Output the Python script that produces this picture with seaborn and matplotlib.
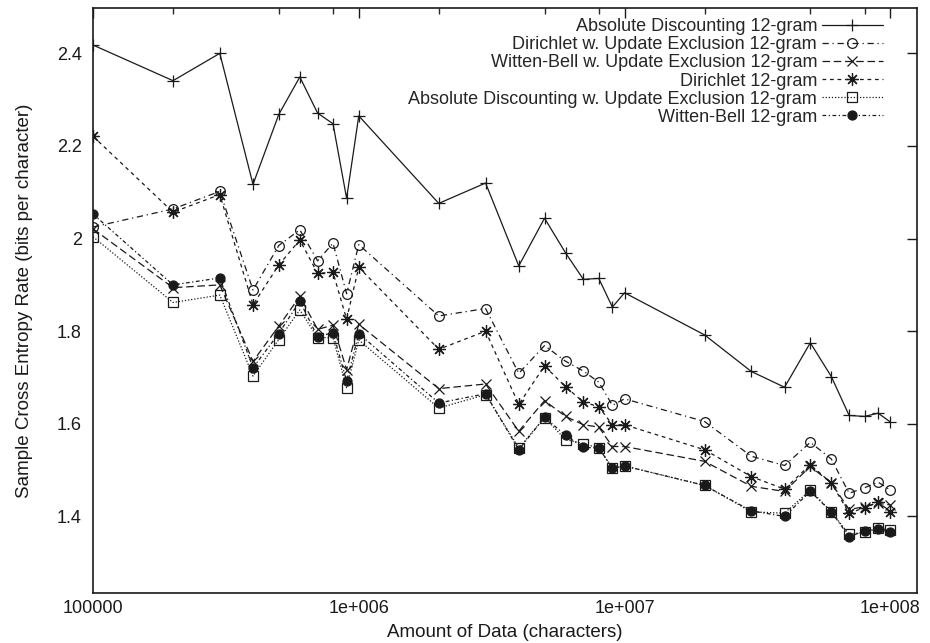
import numpy as np
import pandas as pd
import matplotlib
matplotlib.use("Agg")
import matplotlib.pyplot as plt
import matplotlib.ticker as mticker
import seaborn as sns

# amount of data (characters)
chars = [1e5, 2e5, 3e5, 4e5, 5e5, 6e5, 7e5, 8e5, 9e5,
         1e6, 2e6, 3e6, 4e6, 5e6, 6e6, 7e6, 8e6, 9e6,
         1e7, 2e7, 3e7, 4e7, 5e7, 6e7, 7e7, 8e7, 9e7, 1e8]

abs_disc = [2.418, 2.341, 2.400, 2.117, 2.268, 2.349, 2.271, 2.248, 2.087,
            2.265, 2.076, 2.120, 1.941, 2.044, 1.969, 1.912, 1.914, 1.852,
            1.883, 1.792, 1.713, 1.679, 1.775, 1.702, 1.618, 1.616, 1.623, 1.604]
dir_ue = [2.025, 2.064, 2.102, 1.889, 1.985, 2.019, 1.952, 1.990, 1.881,
          1.987, 1.833, 1.849, 1.709, 1.769, 1.735, 1.714, 1.690, 1.640,
          1.654, 1.605, 1.530, 1.510, 1.560, 1.524, 1.450, 1.462, 1.474, 1.457]
wb_ue = [2.021, 1.894, 1.900, 1.735, 1.811, 1.875, 1.804, 1.813, 1.717,
         1.815, 1.676, 1.686, 1.584, 1.650, 1.616, 1.598, 1.593, 1.551,
         1.551, 1.519, 1.465, 1.454, 1.508, 1.472, 1.415, 1.421, 1.428, 1.425]
dirichlet = [2.221, 2.057, 2.095, 1.857, 1.943, 1.997, 1.925, 1.927, 1.826,
             1.938, 1.761, 1.800, 1.642, 1.725, 1.680, 1.647, 1.637, 1.598,
             1.598, 1.544, 1.486, 1.459, 1.512, 1.472, 1.407, 1.419, 1.431, 1.410]
abs_disc_ue = [2.004, 1.862, 1.878, 1.703, 1.782, 1.846, 1.786, 1.786, 1.678,
               1.781, 1.634, 1.663, 1.548, 1.613, 1.566, 1.557, 1.548, 1.504,
               1.509, 1.467, 1.410, 1.407, 1.457, 1.410, 1.361, 1.366, 1.374, 1.371]
witten_bell = [2.053, 1.900, 1.915, 1.721, 1.795, 1.865, 1.788, 1.797, 1.692,
               1.795, 1.645, 1.665, 1.544, 1.614, 1.575, 1.549, 1.548, 1.504,
               1.509, 1.467, 1.412, 1.400, 1.454, 1.410, 1.356, 1.369, 1.372, 1.366]

labels = ["Absolute Discounting 12-gram",
          "Dirichlet w. Update Exclusion 12-gram",
          "Witten-Bell w. Update Exclusion 12-gram",
          "Dirichlet 12-gram",
          "Absolute Discounting w. Update Exclusion 12-gram",
          "Witten-Bell 12-gram"]
series = [abs_disc, dir_ue, wb_ue, dirichlet, abs_disc_ue, witten_bell]

# gnuplot-ish look for each line
styles = [
    dict(linestyle="-", marker="+", markersize=9, mfc="k"),
    dict(linestyle=(0, (5, 3, 1, 3)), marker="o", markersize=7, mfc="none"),
    dict(linestyle=(0, (6, 3)), marker="x", markersize=7, mfc="k"),
    dict(linestyle=(0, (3, 3)), marker=(8, 2, 0), markersize=9, mfc="k"),
    dict(linestyle=(0, (1, 1.5)), marker="s", markersize=7, mfc="none"),
    dict(linestyle=(0, (3, 2, 1, 2)), marker="o", markersize=6.5, mfc="k"),
]

sns.set_theme(style="white")
plt.rcParams['font.family'] = ['Liberation Sans', 'DejaVu Sans']

fig = plt.figure(figsize=(9.3, 6.43), dpi=100)
ax = fig.add_axes([0.1, 0.078, 0.886, 0.9096])

for lab, vals, st in zip(labels, series, styles):
    df = pd.DataFrame({"chars": chars, "rate": vals})
    sns.lineplot(data=df, x="chars", y="rate", ax=ax, color="k", linewidth=0.9,
                 sort=False, errorbar=None, label=lab, mec="k", mew=0.9, **st)

ax.set_xscale("log")
ax.set_xlim(1e5, 1.26e8)
ax.set_ylim(1.235, 2.498)

ax.xaxis.set_major_locator(mticker.FixedLocator([1e5, 1e6, 1e7, 1e8]))
ax.xaxis.set_major_formatter(mticker.FixedFormatter(["100000", "1e+006", "1e+007", "1e+008"]))
ax.xaxis.set_minor_locator(mticker.LogLocator(base=10, subs=[2, 5, 8]))
ax.xaxis.set_minor_formatter(mticker.NullFormatter())
ax.set_yticks([1.4, 1.6, 1.8, 2.0, 2.2, 2.4])
ax.set_yticklabels(["1.4", "1.6", "1.8", "2", "2.2", "2.4"])

ax.tick_params(which="major", direction="in", length=7, width=1, top=True, right=True,
               labelsize=13, colors="k")
ax.tick_params(axis="x", which="major", pad=5)
ax.tick_params(axis="y", which="major", pad=8)
ax.tick_params(which="minor", direction="in", length=4, width=1, top=True, right=True)
for sp in ax.spines.values():
    sp.set_color("k")
    sp.set_linewidth(1.2)

ax.set_xlabel("Amount of Data (characters)", fontsize=13.5, color="k", labelpad=5)
ax.set_ylabel("Sample Cross Entropy Rate (bits per character)", fontsize=13.5,
              color="k", labelpad=17)

ax.legend(loc="upper right", bbox_to_anchor=(0.974, 1.004), markerfirst=False,
          frameon=False, fontsize=13, handlelength=3.4, labelspacing=0.06,
          borderaxespad=0.3, handletextpad=0.25)

fig.savefig("out.png", dpi=100)
